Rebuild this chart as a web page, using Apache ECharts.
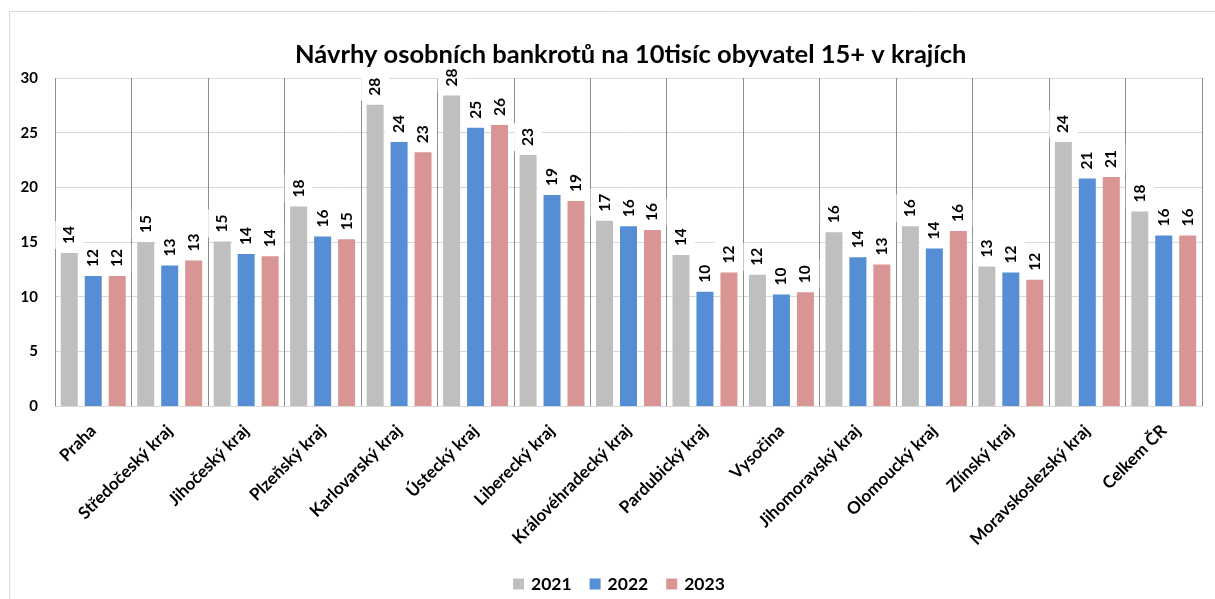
<!DOCTYPE html>
<html lang="cs">
<head>
<meta charset="utf-8">
<title>Návrhy osobních bankrotů na 10tisíc obyvatel 15+ v krajích</title>
<script src="https://cdn.jsdelivr.net/npm/echarts@6/dist/echarts.min.js"></script>
<style>
  html, body { margin: 0; padding: 0; background: #ffffff; }
  #chart { width: 1215px; height: 599px; }
</style>
</head>
<body>
<div id="chart"></div>
<script>
// Kraje (regions) plus the national total
const regions = [
  'Praha', 'Středočeský kraj', 'Jihočeský kraj', 'Plzeňský kraj', 'Karlovarský kraj',
  'Ústecký kraj', 'Liberecký kraj', 'Královéhradecký kraj', 'Pardubický kraj', 'Vysočina',
  'Jihomoravský kraj', 'Olomoucký kraj', 'Zlínský kraj', 'Moravskoslezský kraj', 'Celkem ČR'
];

// Personal bankruptcy petitions per 10 000 inhabitants aged 15+
const years = ['2021', '2022', '2023'];
const values2021 = [14.0, 15.0, 15.05, 18.25, 27.55, 28.4, 22.95, 16.95, 13.8, 12.0, 15.9, 16.45, 12.75, 24.15, 17.8];
const values2022 = [11.9, 12.85, 13.9, 15.5, 24.15, 25.45, 19.3, 16.45, 10.45, 10.2, 13.6, 14.4, 12.2, 20.8, 15.6];
const values2023 = [11.9, 13.3, 13.7, 15.25, 23.2, 25.7, 18.75, 16.1, 12.2, 10.4, 12.95, 16.0, 11.55, 20.95, 15.6];

// Value axis ticks
const yMin = 0;
const yMax = 30;
const yStep = 5;

const colors = ['#bfbfbf', '#558ed5', '#d99594'];
const FONT = 'Lato, "Open Sans", "DejaVu Sans", sans-serif';

function barSeries(name, data, color) {
  return {
    name: name,
    type: 'bar',
    data: data,
    barWidth: 17,
    barGap: '41%',
    itemStyle: { color: color },
    label: {
      show: true,
      position: 'top',
      rotate: 90,
      align: 'left',
      verticalAlign: 'middle',
      distance: 4,
      formatter: p => Math.round(p.value).toString(),
      fontFamily: FONT,
      fontWeight: 'bold',
      fontSize: 15.5,
      color: '#000000',
      backgroundColor: '#ffffff',
      padding: [6, 5, 6, 5]
    },
    emphasis: { disabled: true }
  };
}

const chart = echarts.init(document.getElementById('chart'), null, { renderer: 'canvas' });

chart.setOption({
  backgroundColor: '#ffffff',
  animation: false,
  color: colors,
  textStyle: { fontFamily: FONT },
  graphic: [{
    type: 'rect',
    z: -10,
    silent: true,
    shape: { x: 9.5, y: 11.5, width: 1300, height: 700 },
    style: { fill: 'none', stroke: '#d9d9d9', lineWidth: 1 }
  }],
  title: {
    text: 'Návrhy osobních bankrotů na 10tisíc obyvatel 15+ v krajích',
    left: 290,
    top: 35,
    textStyle: {
      fontFamily: FONT,
      fontWeight: 'bold',
      fontSize: 25.5,
      lineHeight: 30,
      color: '#000000'
    }
  },
  legend: {
    data: years,
    left: 508,
    top: 570,
    icon: 'rect',
    itemWidth: 11,
    itemHeight: 11,
    itemGap: 18,
    selectedMode: false,
    textStyle: {
      fontFamily: FONT,
      fontWeight: 'bold',
      fontSize: 17.5,
      lineHeight: 17,
      color: '#000000',
      padding: [0, 0, 0, 2]
    }
  },
  grid: {
    left: 55,
    right: 13,
    top: 78,
    bottom: 193,
    containLabel: false
  },
  xAxis: {
    type: 'category',
    data: regions,
    boundaryGap: true,
    axisTick: { show: false },
    axisLine: { show: true, lineStyle: { color: '#d9d9d9', width: 1 } },
    splitLine: { show: true, interval: 0, lineStyle: { color: '#8c8c8c', width: 1 } },
    axisLabel: {
      interval: 0,
      rotate: 45,
      margin: 22,
      fontFamily: FONT,
      fontWeight: 'bold',
      fontSize: 17,
      color: '#000000'
    }
  },
  yAxis: {
    type: 'value',
    min: yMin,
    max: yMax,
    interval: yStep,
    axisLine: { show: false },
    axisTick: { show: false },
    splitLine: { show: true, lineStyle: { color: '#d9d9d9', width: 1 } },
    axisLabel: {
      margin: 17,
      fontFamily: FONT,
      fontWeight: 'bold',
      fontSize: 15,
      color: '#000000'
    }
  },
  series: [
    barSeries(years[0], values2021, colors[0]),
    barSeries(years[1], values2022, colors[1]),
    barSeries(years[2], values2023, colors[2])
  ]
});
</script>
</body>
</html>
